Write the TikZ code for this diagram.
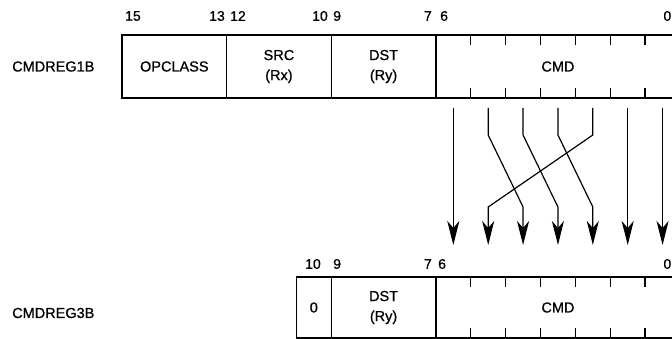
\documentclass[tikz,border=0pt]{standalone}
\usepackage{fontspec}
\setmainfont[FakeBold=0.8]{Liberation Sans}
\usetikzlibrary{arrows.meta}
\begin{document}
\begin{tikzpicture}[x=1pt,y=-1pt,
  field/.style={draw,line width=1.3pt,inner sep=0pt,align=center,font=\fontsize{14.5}{20}\selectfont},
  bitno/.style={inner sep=0pt,font=\fontsize{14}{15}\selectfont},
  regname/.style={inner sep=0pt,anchor=west,font=\fontsize{14.5}{15}\selectfont},
  tick/.style={line width=1.3pt},
  bitarrow/.style={line width=1.2pt,-{Stealth[length=24pt,width=12pt,inset=7pt]}}]
\useasboundingbox (0,0) rectangle (672,339);
\clip (0,0) rectangle (672,339);
% register names
\node[regname] (n1) at (12,66.5) {CMDREG1B};
\node[regname] (n3) at (12,313) {CMDREG3B};
% top register
\node[field,minimum width=104.625pt,minimum height=63pt] (opc) at (174.31,66.5) {OPCLASS};
\node[field,minimum width=104.625pt,minimum height=63pt] (src) at (278.94,66.5) {SRC\\(Rx)};
\node[field,minimum width=104.625pt,minimum height=63pt] (dst) at (383.56,66.5) {DST\\(Ry)};
\node[field,minimum width=244.125pt,minimum height=63pt] (cmd) at (557.94,66.5) {CMD};
\foreach \x in {470.75,505.625,540.5,575.375,610.25,645.125}{
  \draw[tick] (\x,35) -- ++(0,10);
  \draw[tick] (\x,98) -- ++(0,-10);
}
% top bit numbers
\node[bitno,anchor=west] (t15) at (125,16) {15};
\node[bitno,anchor=east] (t13) at (225,16) {13};
\node[bitno,anchor=west] (t12) at (230,16) {12};
\node[bitno,anchor=east] (t10) at (328,16) {10};
\node[bitno,anchor=west] (t9) at (333,16) {9};
\node[bitno,anchor=east] (t7) at (432,16) {7};
\node[bitno,anchor=west] (t6) at (440,16) {6};
\node[bitno,anchor=east] (t0) at (671.5,16) {0};
% bottom register
\node[field,minimum width=34.875pt,minimum height=61pt] (bz) at (313.81,307.5) {0};
\node[field,minimum width=104.625pt,minimum height=61pt] (bdst) at (383.56,307.5) {DST\\(Ry)};
\node[field,minimum width=244.125pt,minimum height=61pt] (bcmd) at (557.94,307.5) {CMD};
\foreach \x in {470.75,505.625,540.5,575.375,610.25,645.125}{
  \draw[tick] (\x,277) -- ++(0,10);
  \draw[tick] (\x,338) -- ++(0,-10);
}
% bottom bit numbers
\node[bitno] (b10) at (313,264) {10};
\node[bitno,anchor=west] (b9) at (333,264) {9};
\node[bitno,anchor=east] (b7) at (432,264) {7};
\node[bitno,anchor=west] (b6) at (438,264) {6};
\node[bitno,anchor=east] (b0) at (671.5,264) {0};
% arrow end points
\foreach \i/\x in {6/453.31,5/488.19,4/523.06,3/557.94,2/592.81,1/627.69,0/662.56}{
  \coordinate (s\i) at (\x,108);
  \coordinate (e\i) at (\x,245);
}
\draw[bitarrow] (s6) -- (e6);
\draw[bitarrow] (s1) -- (e1);
\draw[bitarrow] (s0) -- (e0);
\draw[bitarrow] (s5) -- (s5 |- 0,135) -- (e4 |- 0,207) -- (e4);
\draw[bitarrow] (s4) -- (s4 |- 0,135) -- (e3 |- 0,207) -- (e3);
\draw[bitarrow] (s3) -- (s3 |- 0,135) -- (e2 |- 0,207) -- (e2);
\draw[bitarrow] (s2) -- (s2 |- 0,135) -- (e5 |- 0,207) -- (e5);
\end{tikzpicture}
\end{document}
